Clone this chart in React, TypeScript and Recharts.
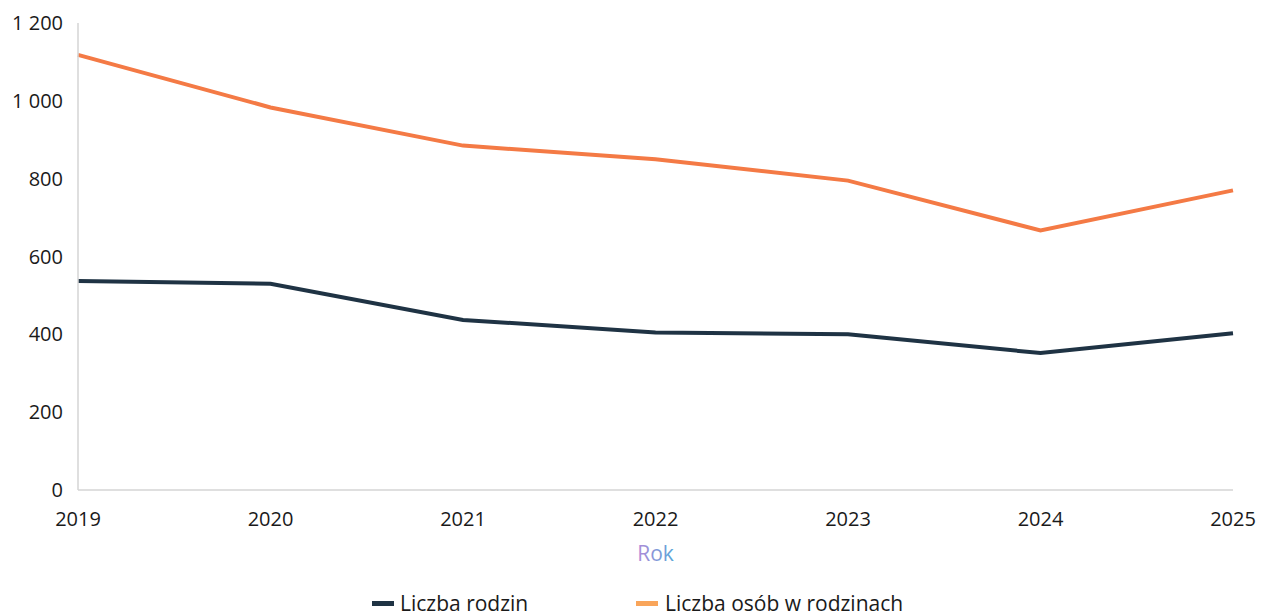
import React from 'react';
import { LineChart, Line, XAxis, YAxis, Legend, Label } from 'recharts';

const years = ['2019', '2020', '2021', '2022', '2023', '2024', '2025'];
const liczbaRodzin = [537, 530, 437, 405, 400, 352, 403];
const liczbaOsob = [1118, 983, 885, 850, 795, 667, 770];
const yTicks = [0, 200, 400, 600, 800, 1000, 1200];

const data = years.map((y, i) => ({ rok: y, rodziny: liczbaRodzin[i], osoby: liczbaOsob[i] }));

const FONT = '"Open Sans", "Noto Sans", sans-serif';

const fmt = (v: number) => (v >= 1000 ? `${Math.floor(v / 1000)} ${String(v % 1000).padStart(3, '0')}` : String(v));

const LegendContent = () => (
  <div style={{ position: 'relative', height: 24, lineHeight: '24px', fontFamily: FONT, fontSize: 21, fontWeight: 500, color: '#1a1a1a' }}>
    <div style={{ position: 'absolute', left: 372, top: 0, display: 'flex', alignItems: 'center' }}>
      <span style={{ display: 'inline-block', width: 22, height: 5, background: '#1f3344', marginRight: 6 }} />
      <span>Liczba rodzin</span>
    </div>
    <div style={{ position: 'absolute', left: 636, top: 0, display: 'flex', alignItems: 'center' }}>
      <span style={{ display: 'inline-block', width: 22, height: 5, background: '#f9a55a', marginRight: 7 }} />
      <span>Liczba osób w rodzinach</span>
    </div>
  </div>
);

export default function App() {
  return (
    <div style={{ position: 'absolute', left: 0, top: 0, background: '#fff' }}>
      <LineChart width={1263} height={615} data={data} margin={{ top: 23, right: 30, bottom: 5, left: 0 }}>
        <defs>
          <linearGradient id="rokGrad" x1="0" y1="0" x2="1" y2="0">
            <stop offset="0%" stopColor="#b08ad8" />
            <stop offset="100%" stopColor="#5aa6d8" />
          </linearGradient>
        </defs>
        <XAxis
          dataKey="rok"
          height={96}
          axisLine={{ stroke: '#d4d4d4', strokeWidth: 1.5 }}
          tickLine={false}
          tickMargin={16}
          tick={{ fontSize: 20, fontWeight: 500, fill: '#1a1a1a', fontFamily: FONT }}
          interval={0}
        >
          <Label value="Rok" position="insideTop" offset={56} style={{ fontSize: 21, fontWeight: 500, fontFamily: FONT, fill: 'url(#rokGrad)' }} />
        </XAxis>
        <YAxis
          width={78}
          domain={[0, 1200]}
          ticks={yTicks}
          tickFormatter={fmt}
          axisLine={{ stroke: '#d4d4d4', strokeWidth: 1.5 }}
          tickLine={false}
          tickMargin={9}
          tick={{ fontSize: 20, fontWeight: 500, fill: '#1a1a1a', fontFamily: FONT }}
        />
        <Legend verticalAlign="bottom" content={<LegendContent />} wrapperStyle={{ left: 0, width: 1263, bottom: 0 }} />
        <Line type="linear" dataKey="rodziny" name="Liczba rodzin" stroke="#1f3344" strokeWidth={4} dot={false} isAnimationActive={false} />
        <Line type="linear" dataKey="osoby" name="Liczba osób w rodzinach" stroke="#f47a45" strokeWidth={4} dot={false} isAnimationActive={false} />
      </LineChart>
    </div>
  );
}
